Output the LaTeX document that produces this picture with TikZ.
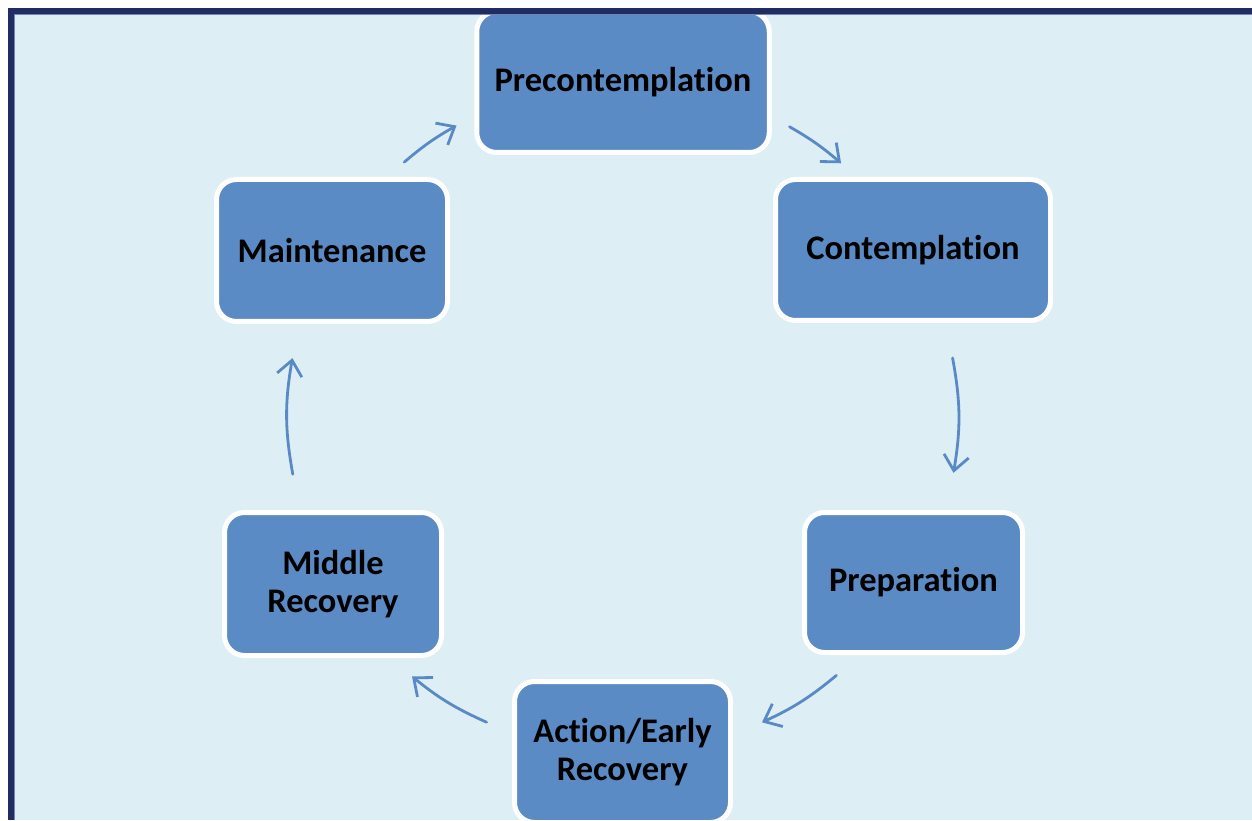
\documentclass[tikz,border=0pt]{standalone}
\usepackage{fontspec}
\setmainfont{Carlito}[RawFeature={-liga;-clig;-dlig}]
\usetikzlibrary{arrows.meta}
\definecolor{bgblue}{HTML}{DDEEF5}
\definecolor{navy}{HTML}{212D62}
\definecolor{boxblue}{HTML}{5B8BC5}
\definecolor{arrblue}{HTML}{5A8AC6}
\definecolor{edgeline}{HTML}{7384B8}
\tikzset{
  stage/.style={draw=white, line width=5pt, fill=boxblue, rounded corners=20pt,
    inner sep=0pt, align=center, text=black,
    font=\fontsize{34.5}{37.5}\selectfont\bfseries},
  cyc/.style={draw=arrblue, line width=2.8pt, line cap=round,
    -{Straight Barb[length=15pt,width=25pt,line width=2.8pt]}}
}
\begin{document}
\begin{tikzpicture}[x=1pt,y=1pt]
\useasboundingbox (0,0) rectangle (1252,820);
\fill[white] (0,0) rectangle (1252,820);
\fill[bgblue] (14,0) rectangle (1252,806);

% stages
\node[stage, minimum width=292.5pt, minimum height=141pt] (pre) at (623,738) {Precontemplation};
\node[stage, minimum width=275pt, minimum height=141pt] (con) at (913,570) {Contemplation};
\node[stage, minimum width=218pt, minimum height=140pt] (prep) at (913.5,237.5) {Preparation};
\node[stage, minimum width=216pt, minimum height=141pt] (act) at (622.5,68) {Action/Early\\Recovery};
\node[stage, minimum width=217pt, minimum height=143pt] (mid) at (333,236) {Middle\\Recovery};
\node[stage, minimum width=231pt, minimum height=142pt] (mai) at (332,569.5) {Maintenance};

% cycle arrows (arcs around a common centre)
\coordinate (c) at (622,402);
\path (c) ++(130.4:336) coordinate (a1s);
\path (c) ++(119.5:336) coordinate (a1e);
\path (c) ++(60.1:336) coordinate (a2s);
\path (c) ++(49.3:336) coordinate (a2e);
\path (c) ++(10.3:336) coordinate (a3s);
\path (c) ++(-9.4:336) coordinate (a3e);
\path (c) ++(-50.2:335) coordinate (a4s);
\path (c) ++(-65.3:335) coordinate (a4e);
\path (c) ++(-114:333) coordinate (a5s);
\path (c) ++(-129.1:333) coordinate (a5e);
\path (c) ++(189.7:334) coordinate (a6s);
\path (c) ++(169.7:335) coordinate (a6e);

\draw[cyc] (a1s) to[bend left=5.5] (a1e);
\draw[cyc] (a2s) to[bend left=5.4] (a2e);
\draw[cyc] (a3s) to[bend left=10] (a3e);
\draw[cyc] (a4s) to[bend left=7.5] (a4e);
\draw[cyc] (a5s) to[bend left=7.5] (a5e);
\draw[cyc] (a6s) to[bend left=10] (a6e);

% frame
\fill[navy] (7.5,0) rectangle (14,812);
\fill[navy] (7.5,806) rectangle (1252,812);
\draw[edgeline, line width=1pt] (14.5,0) -- (14.5,805.5) -- (1252,805.5);
\end{tikzpicture}
\end{document}
